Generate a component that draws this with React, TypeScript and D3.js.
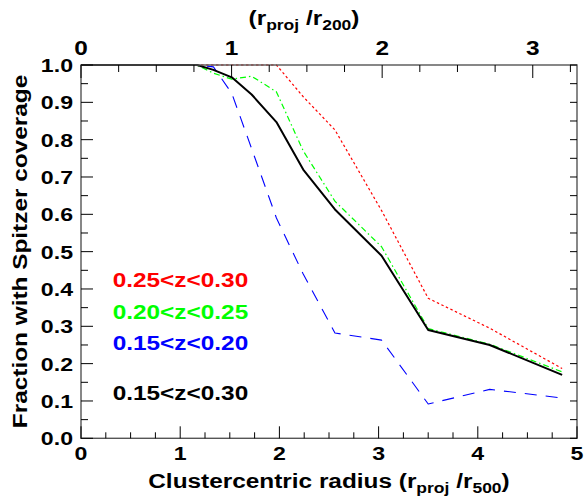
import React from 'react';
import * as d3 from 'd3';

// projected radius in units of r500 (bin centres)
const radius = [0, 1.17, 1.335, 1.52, 1.72, 1.97, 2.24, 2.56, 3.03, 3.5, 4.12, 4.85];

// fraction of members with Spitzer coverage per redshift slice
const fracHigh = [1, 1, 1, 1, 1, 1, 0.915, 0.826, 0.61, 0.375, 0.295, 0.187];
const fracMid = [1, 1, 0.978, 0.962, 0.97, 0.928, 0.77, 0.635, 0.513, 0.294, 0.252, 0.178];
const fracLow = [1, 1, 0.995, 0.924, 0.776, 0.59, 0.44, 0.282, 0.263, 0.092, 0.131, 0.108];
const fracAll = [1, 1, 0.987, 0.967, 0.921, 0.847, 0.72, 0.613, 0.489, 0.29, 0.25, 0.17];

const seriesLabels = ['0.25<z<0.30', '0.20<z<0.25', '0.15<z<0.20', '0.15<z<0.30'];

const xTicks = [0, 1, 2, 3, 4, 5];
const topTicks = [0, 1, 2, 3];
const yTicks = [0, 0.1, 0.2, 0.3, 0.4, 0.5, 0.6, 0.7, 0.8, 0.9, 1.0];

const r200PerR500 = 1.518;

const W = 586;
const H = 500;
const left = 81;
const right = 577;
const top = 65;
const bottom = 438.3;

const FONT = '"Liberation Sans", Arial, sans-serif';
const SX = 1.25;

const Txt = ({ x, y, size = 19, anchor = 'middle', fill = '#000', rot = 0, children }: any) => (
    <text
        transform={`translate(${x},${y})${rot ? ` rotate(${rot})` : ''} scale(${SX},1)`}
        textAnchor={anchor}
        fontFamily={FONT}
        fontWeight="bold"
        fontSize={size}
        fill={fill}
    >
        {children}
    </text>
);

const App = () => {
    const x = d3.scaleLinear().domain([0, 5]).range([left, right]);
    const xTop = d3.scaleLinear().domain([0, 5 / r200PerR500]).range([left, right]);
    const y = d3.scaleLinear().domain([0, 1]).range([bottom, top]);

    const line = (vals: number[]) =>
        d3.line<number>()
            .x((_, i) => x(radius[i]))
            .y((d) => y(d))(vals) || '';

    const series = [
        { vals: fracHigh, color: '#ff0000', dash: '2.5,2.5', width: 1.2 },
        { vals: fracMid, color: '#00ff00', dash: '6,3,1.5,3', width: 1.2 },
        { vals: fracLow, color: '#0000ff', dash: '12,9', width: 1.1 },
        { vals: fracAll, color: '#000000', dash: undefined, width: 2 },
    ];

    const xMinor = d3.range(0, 5.0001, 0.25);
    const topMinor = d3.range(0, 5 / r200PerR500, 0.25);
    const yMinor = d3.range(0, 1.0001, 0.05);

    const legendY = [287.3, 319, 350, 400];

    return (
        <svg width={W} height={H} style={{ position: 'absolute', left: 0, top: 0, background: '#fff' }}>
            {/* curves */}
            {series.map((s, i) => (
                <path
                    key={i}
                    d={line(s.vals)}
                    fill="none"
                    stroke={s.color}
                    strokeWidth={s.width}
                    strokeDasharray={s.dash}
                    strokeLinejoin="round"
                />
            ))}

            {/* frame */}
            <rect x={left} y={top} width={right - left} height={bottom - top} fill="none" stroke="#555" strokeWidth={1.4} />

            {/* bottom ticks */}
            {xMinor.map((v, i) => {
                const major = Math.abs(v - Math.round(v)) < 1e-6;
                return <line key={'bx' + i} x1={x(v)} x2={x(v)} y1={bottom} y2={bottom - (major ? 12 : 6)} stroke="#000" />;
            })}
            {/* top ticks */}
            {topMinor.map((v, i) => {
                const major = Math.abs(v - Math.round(v)) < 1e-6;
                return <line key={'tx' + i} x1={xTop(v)} x2={xTop(v)} y1={top} y2={top + (major ? 13 : 7)} stroke="#000" />;
            })}
            {/* left / right ticks */}
            {yMinor.map((v, i) => {
                const major = i % 2 === 0;
                return (
                    <g key={'y' + i}>
                        <line x1={left} x2={left + (major ? 12 : 7)} y1={y(v)} y2={y(v)} stroke="#000" />
                        <line x1={right} x2={right - 7} y1={y(v)} y2={y(v)} stroke="#000" />
                    </g>
                );
            })}

            {/* tick labels */}
            {xTicks.map((v) => (
                <Txt key={'xl' + v} x={x(v)} y={459.5} size={18.5}>{v}</Txt>
            ))}
            {topTicks.map((v) => (
                <Txt key={'tl' + v} x={xTop(v)} y={55} size={19.5}>{v}</Txt>
            ))}
            {yTicks.map((v) => (
                <Txt key={'yl' + v} x={73} y={y(v) + 7} size={18.5} anchor="end">{v.toFixed(1)}</Txt>
            ))}

            {/* axis titles */}
            <Txt x={329} y={487.5} size={19.5}>
                Clustercentric radius (r
                <tspan fontSize={14} dy={5}>proj</tspan>
                <tspan dy={-5}> /r</tspan>
                <tspan fontSize={14} dy={5}>500</tspan>
                <tspan dy={-5}>)</tspan>
            </Txt>
            <Txt x={304} y={25} size={19.5}>
                (r
                <tspan fontSize={14} dy={5}>proj</tspan>
                <tspan dy={-5}> /r</tspan>
                <tspan fontSize={14} dy={5}>200</tspan>
                <tspan dy={-5}>)</tspan>
            </Txt>
            <Txt x={27} y={251.5} size={19.5} rot={-90}>Fraction with Spitzer coverage</Txt>

            {/* legend */}
            {seriesLabels.map((t, i) => (
                <Txt key={t + i} x={112.7} y={legendY[i]} size={19.5} anchor="start" fill={series[i].color}>{t}</Txt>
            ))}
        </svg>
    );
};

export default App;
